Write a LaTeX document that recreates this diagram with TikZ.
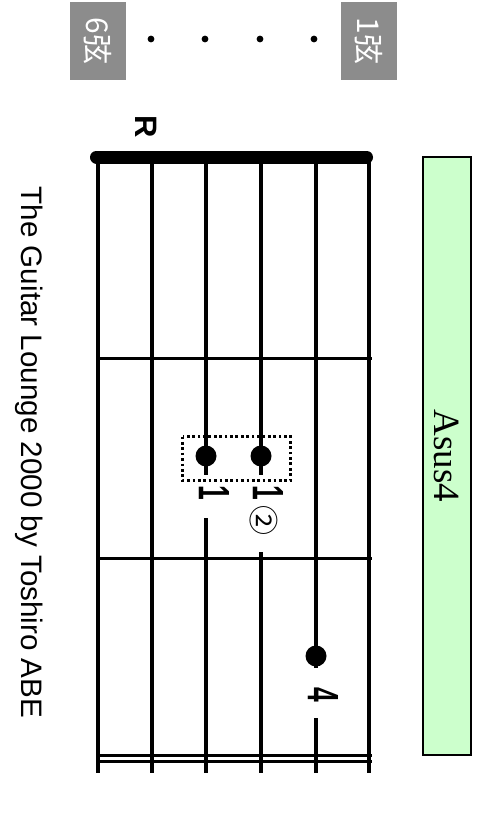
\documentclass[tikz,border=0pt]{standalone}
\usepackage{fontspec}
\setmainfont{Liberation Serif}
\setsansfont{Liberation Sans}
\newfontfamily\jpfont{Noto Sans CJK JP}
\usepackage{xcolor}
\usetikzlibrary{positioning}

\definecolor{chordgreen}{RGB}{204,255,204}
\definecolor{tabgray}{RGB}{140,140,140}

\begin{document}
\begin{tikzpicture}[
  x=1pt, y=-1pt,
  every node/.style={align=center, rotate=-90, inner sep=0pt},
  strline/.style={line width=4pt},
  fretline/.style={line width=3pt},
  nutline/.style={line width=13pt, line cap=round},
  tabbox/.style={fill=tabgray, minimum width=78pt, minimum height=56pt, text=white, font=\jpfont\fontsize{30}{30}\selectfont},
  fdot/.style={circle, fill=black, minimum size=21pt},
  finger/.style={font=\sffamily\bfseries\fontsize{44}{44}\selectfont},
  barre/.style={draw, line width=2.7pt, dash pattern=on 2.7pt off 2.7pt},
  namebox/.style={draw, line width=2pt, fill=chordgreen, minimum width=598pt, minimum height=48pt, font=\rmfamily\fontsize{37}{37}\selectfont}
]
  \useasboundingbox (0,0) rectangle (490,840);

  \node[tabbox] (s6) at (98,41)  {6弦};
  \node[tabbox] (s1) at (369,41) {1弦};
  \foreach \x in {151,205,260,314}
    \fill (\x,39) circle (3.4);

  \node[font=\sffamily\bfseries\fontsize{31}{31}\selectfont] (root) at (146.5,126.5) {R};

  \foreach \x in {98,152,369}
    \draw[strline] (\x,157) -- (\x,773);
  \foreach \x/\a/\b in {206/475/518, 261/475/552, 316/668/718}
    \draw[strline] (\x,157) -- (\x,\a) (\x,\b) -- (\x,773);
  \foreach \y in {358,558,755,761}
    \draw[fretline] (96,\y) -- (371.5,\y);
  \draw[nutline] (96.5,157) -- (366.5,157);

  \node[fdot] (d3) at (206,456) {};
  \node[fdot] (d4) at (261,456) {};
  \node[fdot] (d5) at (316,656) {};
  \draw[barre] (182.5,436.5) rectangle (290.5,480.5);

  \node[finger] (f3) at (214,493)   {\scalebox{0.6}[1]{1}};
  \node[finger] (f4) at (268,493)   {\scalebox{0.6}[1]{1}};
  \node[font=\jpfont\fontsize{30}{30}\selectfont] (alt4) at (263.5,520.5) {②};
  \node[finger] (f5) at (323,694.5) {\scalebox{0.6}[1]{4}};

  \node[namebox] (chord) at (447,456) {Asus4};

  \node[font=\sffamily\fontsize{29.6}{30}\selectfont] (credit) at (29.2,452.5) {The Guitar Lounge 2000 by Toshiro ABE};
\end{tikzpicture}
\end{document}
